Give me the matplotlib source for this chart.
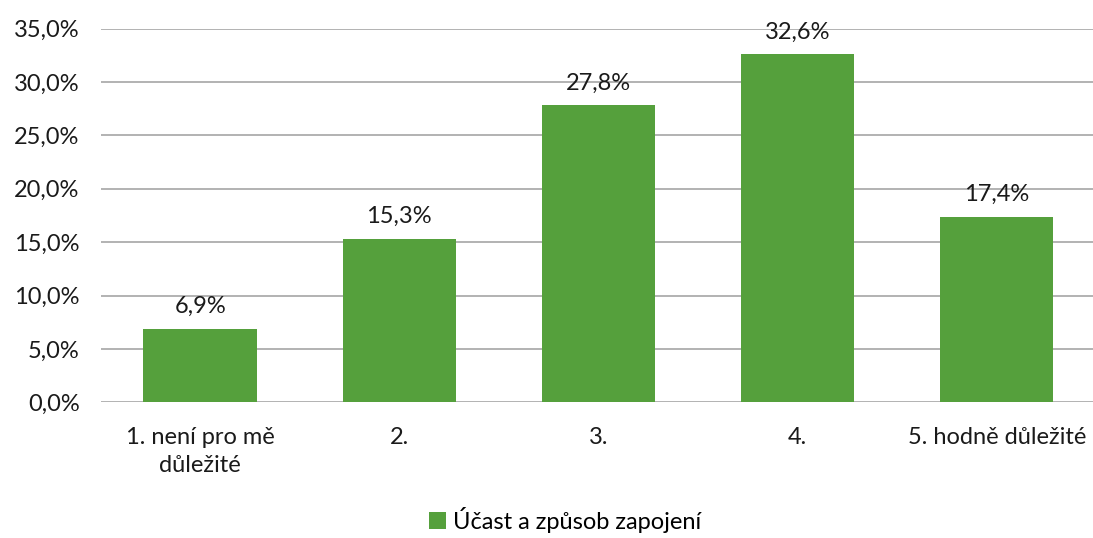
import matplotlib.pyplot as plt
from matplotlib.patches import Patch

categories = ["1. není pro mě\ndůležité", "2.", "3.", "4.", "5. hodně důležité"]
values = [6.9, 15.3, 27.8, 32.6, 17.4]
series_name = "Účast a způsob zapojení"
yticks = [0, 5, 10, 15, 20, 25, 30, 35]

bar_color = "#55A03C"
grid_color = "#A6A6A6"
text_color = "#1A1A1A"

plt.rcParams["font.family"] = ["Lato", "DejaVu Sans"]

fig = plt.figure(figsize=(10.93, 5.38), dpi=100)
ax = fig.add_axes([0.092, 0.252, 0.911, 0.695])

x = list(range(len(categories)))
bars = ax.bar(x, values, width=0.57, color=bar_color, zorder=3)

for xi, v in zip(x, values):
    ax.text(xi, v + 1.1, f"{v:.1f}%".replace(".", ","), ha="center", va="bottom",
            fontsize=17, color=text_color)

ax.set_xlim(-0.5, len(categories) - 0.5)
ax.set_ylim(0, 35)
ax.set_yticks(yticks)
ax.set_yticklabels([f"{t:.1f}%".replace(".", ",") for t in yticks],
                   fontsize=17, color=text_color)
ax.set_xticks(x)
ax.set_xticklabels(categories, fontsize=17, color=text_color, linespacing=1.4)
ax.tick_params(axis="both", length=0)
ax.tick_params(axis="y", pad=15)
ax.tick_params(axis="x", pad=18)
ax.grid(axis="y", color=grid_color, linewidth=1.2, zorder=0)
for spine in ax.spines.values():
    spine.set_visible(False)

handles = [Patch(facecolor=bar_color, label=series_name)]
fig.legend(handles=handles, loc="lower center", bbox_to_anchor=(0.517, -0.03),
           frameon=False, fontsize=17, handlelength=0.7, handleheight=0.7,
           handletextpad=0.3)

fig.savefig("out.png", dpi=100, facecolor="white")
